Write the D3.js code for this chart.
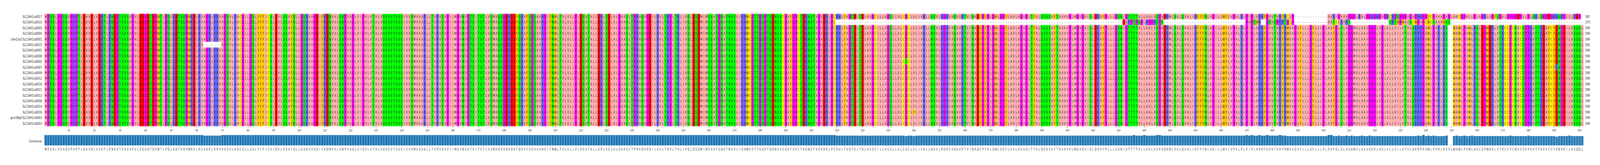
<!DOCTYPE html>
<html>
<head>
<meta charset="utf-8">
<script src="https://cdn.jsdelivr.net/npm/d3@7"></script>
<style>
  html, body { margin: 0; padding: 0; background: #fff; overflow: hidden; }
  svg { display: block; width: 100vw; height: 100vh; }
  text { font-family: "DejaVu Sans", sans-serif; }
</style>
</head>
<body>
<svg id="chart" viewBox="0 0 6298 423" preserveAspectRatio="none"></svg>
<script>
// consensus sequence, read in blocks of 100 columns
var consensusBlocks = [
  "MPSSLPGSQVPHPTLDAVDLVEKTLRNEGTSSSAPVLEEGDTDPWTLPQLKDTSQPWKELRVAGRLRRVAGSVLKACGLLGSLYFFICSLDVLSSAFQLL",
  "GSKVAGDIFKDNVVLSNPVAGLVIGVLVTALVQSSSTSSSIVVSMVAAKLLTVRVSVPIIMGVNVGTSITSTLVSMAQSGDRDEFQRAFSGSAVHGIFNW",
  "LTVLVLLPLESATALLERLSELALGAASLTPRAQAPDILKVLTKPLTHLIVQLDSDMIMSSATGNATNSSLIKHWCGTTGQPTQENSSCGAFGPCTEKNS",
  "TAPADRLPCRHLFAGTELTDLAVGCILLAGSLLVLCGCLVLIVKLLNSVLRGRVAQVVRTVINADFPFPLGWLGGYLAVLAGAGLTFALQSSSVFTAAVV",
  "PLMGVGVISLDRAYPLLLGSNIGTTTTALLAALASPADRMLSALQVALIHFFFNLAGILLWYLVPALRLPIPLARHFGVVTARYRWVAGVYLLLGFLLLP",
  "LAAFGLSLAGGMVLAAVGGPLVGLVLLVILVTVLQRRRPAWLPVRLRSXLWAWLPVWLHSLEPWDRLVTRCCPCNVCSPPKATTKEAYCYENPEILASQQL"
];

var labels = [
  "SLC34A3:a0017", "SLC34A3:a0010", "SLC34A3:a0005", "SLC34A3:a0004",
  "chm13v2:SLC34A3:a0001", "SLC34A3:a0015", "SLC34A3:a0001", "SLC34A3:a0008",
  "SLC34A3:a0002", "SLC34A3:a0007", "SLC34A3:a0009", "SLC34A3:a0012",
  "SLC34A3:a0018", "SLC34A3:a0011", "SLC34A3:a0013", "SLC34A3:a0006",
  "SLC34A3:a0014", "SLC34A3:a0016", "grch38p0:SLC34A3:a0003", "SLC34A3:a0003"
];

var seqLengths = [587, 375, 599, 599, 599, 592, 599, 599, 599, 599,
                  599, 599, 599, 599, 599, 599, 599, 599, 599, 599];

// segments that differ from the consensus: [row, first column, residues]
var segments = [
  [0, 486, "CLP"],
  [0, 489, "-------------"],
  [0, 502, "AARIPAA"],
  [0, 509, "APGGLRALPGRGHGAGRCRGSPGGAGAPRHPGYCPAAAPAGLAACPPALLGLAPRLAPFSGALGPPGDPLLPLQRLQPPEGHHQRGLLLREP-"],
  [1, 310, "-".repeat(112)],
  [1, 422, "EARPTPSPLHPPHSPS"],
  [1, 438, "-".repeat(32)],
  [1, 470, "PAPTWR--GTAQPRRTGCP"],
  [1, 489, "-------------"],
  [1, 502, "AATCLRA"],
  [1, 509, "RS"],
  [1, 511, "-".repeat(15)],
  [1, 526, "SRTWPWAASCWPAPCWCSAAAWSS"],
  [1, 550, "-".repeat(52)],
  [5, 63, "-------"],
  [8, 337, "S"],
  [17, 340, "F"],
  [9, 591, "K"]
];
// rows 2..19 carry a two-residue gap at columns 549-550
var sharedGapRows = d3.range(2, 20);
var sharedGap = [549, "--"];

var tickCols = d3.range(10, 601, 10);

// Zappo colours
var zappo = {
  I: "#ffafaf", L: "#ffafaf", V: "#ffafaf", A: "#ffafaf", M: "#ffafaf",
  F: "#ffc800", W: "#ffc800", Y: "#ffc800",
  K: "#6464ff", R: "#6464ff", H: "#6464ff",
  D: "#ff0000", E: "#ff0000",
  S: "#00ff00", T: "#00ff00", N: "#00ff00", Q: "#00ff00",
  P: "#ff00ff", G: "#ff00ff",
  C: "#ffff00"
};

var consensus = consensusBlocks.join("");
var nCols = consensus.length;

var rows = labels.map(function(l, r) {
  var s = consensus.split("");
  if (sharedGapRows.indexOf(r) >= 0) {
    for (var k = 0; k < sharedGap[1].length; k++) s[sharedGap[0] - 1 + k] = sharedGap[1][k];
  }
  segments.forEach(function(seg) {
    if (seg[0] !== r) return;
    for (var k = 0; k < seg[2].length; k++) s[seg[1] - 1 + k] = seg[2][k];
  });
  return s.slice(0, nCols);
});

var cells = [];
rows.forEach(function(s, r) {
  s.forEach(function(ch, c) { cells.push({ row: r, col: c + 1, ch: ch }); });
});

var cols = d3.range(1, nCols + 1);
var conservation = cols.map(function(c) {
  var ch = consensus[c - 1];
  var n = rows.filter(function(s) { return s[c - 1] === ch; }).length;
  return { col: c, ch: ch, frac: n / rows.length };
});

var svg = d3.select("#chart");
var x = d3.scaleBand().domain(cols).range([175, 6233]).padding(0);
var y = d3.scaleBand().domain(d3.range(labels.length)).range([35.3, 323.3]).padding(0);
var barY = d3.scaleLinear().domain([0, 1]).range([373, 346]);
var barColor = d3.scaleLinear().domain([0, 1]).range(["#8dbbe0", "#1f77b4"]);

svg.append("g").selectAll("rect").data(cells).join("rect")
  .attr("x", function(d) { return x(d.col); })
  .attr("y", function(d) { return y(d.row); })
  .attr("width", x.bandwidth() + 0.3)
  .attr("height", y.bandwidth() + 0.3)
  .attr("fill", function(d) { return zappo[d.ch] || "#ffffff"; });

svg.append("g").selectAll("text").data(cells).join("text")
  .attr("x", function(d) { return x(d.col) + x.bandwidth() / 2; })
  .attr("y", function(d) { return y(d.row) + y.bandwidth() / 2 + 3.5; })
  .attr("text-anchor", "middle")
  .attr("font-size", 9.5)
  .attr("fill", "#222")
  .text(function(d) { return d.ch; });

svg.append("g").selectAll("text").data(labels).join("text")
  .attr("x", 165)
  .attr("y", function(d, i) { return y(i) + y.bandwidth() / 2 + 3.5; })
  .attr("text-anchor", "end")
  .attr("font-size", 9.5)
  .attr("fill", "#222")
  .text(function(d) { return d; });

svg.append("g").selectAll("text").data(seqLengths).join("text")
  .attr("x", 6240)
  .attr("y", function(d, i) { return y(i) + y.bandwidth() / 2 + 3.5; })
  .attr("font-size", 9.5)
  .attr("fill", "#222")
  .text(function(d) { return d; });

var axis = d3.axisBottom(x).tickValues(tickCols).tickSize(3.5).tickSizeOuter(0);
var ax = svg.append("g").attr("transform", "translate(0,323.3)").call(axis);
ax.select(".domain").remove();
ax.selectAll("text").attr("font-size", 8).attr("fill", "#333").attr("dy", "0.9em");
ax.selectAll("line").attr("stroke", "#333");

svg.append("g").selectAll("rect").data(conservation).join("rect")
  .attr("x", function(d) { return x(d.col); })
  .attr("y", function(d) { return barY(d.frac); })
  .attr("width", x.bandwidth())
  .attr("height", function(d) { return 373 - barY(d.frac); })
  .attr("fill", function(d) { return barColor(d.frac); })
  .attr("stroke", "#dce8f2")
  .attr("stroke-width", 0.7);

svg.append("text").attr("x", 165).attr("y", 365).attr("text-anchor", "end")
  .attr("font-size", 9.5).attr("fill", "#222").text("Consensus");

svg.append("g").selectAll("text").data(conservation).join("text")
  .attr("x", function(d) { return x(d.col) + x.bandwidth() / 2; })
  .attr("y", 386)
  .attr("text-anchor", "middle")
  .attr("font-size", 9.5)
  .attr("fill", "#444")
  .text(function(d) { return d.ch; });
</script>
</body>
</html>
